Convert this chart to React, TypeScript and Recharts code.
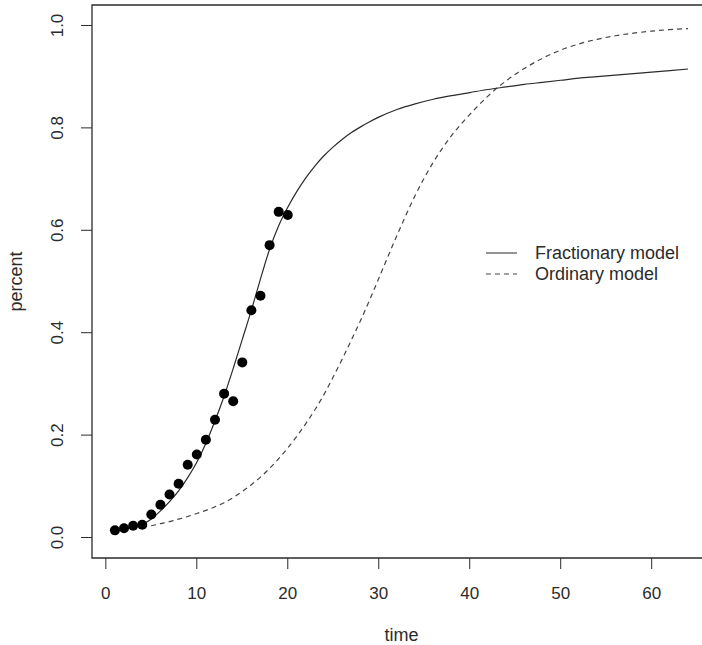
import { ComposedChart, Line, Scatter, XAxis, YAxis, ReferenceArea } from 'recharts'

// observed data
const obsTime = [1, 2, 3, 4, 5, 6, 7, 8, 9, 10, 11, 12, 13, 14, 15, 16, 17, 18, 19, 20]
const obsPercent = [
  0.014, 0.018, 0.023, 0.025, 0.045, 0.064, 0.084, 0.105, 0.142, 0.162,
  0.191, 0.23, 0.281, 0.266, 0.342, 0.444, 0.472, 0.571, 0.636, 0.63,
]

// model curves
const modelTime = [
  4, 5, 6, 7, 8, 9, 10, 11, 12, 13, 14, 15, 16, 17, 18, 19, 20, 21, 22, 23, 24, 25, 26, 27, 28, 29, 30,
  32, 34, 36, 38, 40, 42, 44, 46, 48, 50, 52, 54, 56, 58, 60, 62, 64,
]
const fractionary = [
  0.025, 0.036, 0.052, 0.07, 0.091, 0.117, 0.147, 0.184, 0.228, 0.276, 0.33, 0.387, 0.444, 0.505,
  0.563, 0.609, 0.645, 0.676, 0.703, 0.726, 0.746, 0.763, 0.778, 0.791, 0.802, 0.812, 0.821,
  0.836, 0.847, 0.856, 0.863, 0.869, 0.875, 0.88, 0.885, 0.889, 0.893, 0.897, 0.9, 0.903, 0.906,
  0.909, 0.912, 0.915,
]
const ordinary = [
  0.02, 0.023, 0.027, 0.031, 0.036, 0.041, 0.047, 0.053, 0.06, 0.068, 0.078, 0.09, 0.103, 0.118,
  0.135, 0.154, 0.175, 0.198, 0.223, 0.25, 0.28, 0.314, 0.349, 0.386, 0.424, 0.464, 0.506,
  0.59, 0.668, 0.733, 0.785, 0.826, 0.862, 0.892, 0.916, 0.936, 0.952, 0.964, 0.973, 0.98, 0.985,
  0.989, 0.992, 0.994,
]

const xTicks = [0, 10, 20, 30, 40, 50, 60]
const yTicks = [0, 0.2, 0.4, 0.6, 0.8, 1.0]
const xDomain: [number, number] = [-1.52, 66.52]
const yDomain: [number, number] = [-0.04, 1.04]

const points = obsTime.map((t, i) => ({ t, v: obsPercent[i] }))
const fracData = modelTime.map((t, i) => ({ t, v: fractionary[i] }))
const ordData = modelTime.map((t, i) => ({ t, v: ordinary[i] }))

const font = '"Liberation Sans", Arial, sans-serif'
const ink = '#2b2b2b'

function XTick({ x, y, payload }: any) {
  return (
    <text x={x} y={y} dy={28} textAnchor="middle" fontSize={17} fill={ink} fontFamily={font}>
      {payload.value}
    </text>
  )
}

function YTick({ x, y, payload }: any) {
  const bx = x - 16
  return (
    <text
      x={bx}
      y={y}
      transform={`rotate(-90 ${bx} ${y})`}
      textAnchor="middle"
      fontSize={17}
      fill={ink}
      fontFamily={font}
    >
      {Number(payload.value).toFixed(1)}
    </text>
  )
}

function YTitle({ viewBox }: any) {
  const cx = viewBox.x + 22
  const cy = viewBox.y + viewBox.height / 2
  return (
    <text x={cx} y={cy} transform={`rotate(-90 ${cx} ${cy})`} textAnchor="middle" fontSize={18} fill={ink} fontFamily={font}>
      percent
    </text>
  )
}

function ModelLegend() {
  return (
    <g fontFamily={font} fontSize={18} fill={ink}>
      <line x1={486} x2={517} y1={253} y2={253} stroke={ink} strokeWidth={1} />
      <line x1={486} x2={517} y1={274} y2={274} stroke="#444" strokeWidth={1} strokeDasharray="5 4" />
      <text x={535} y={259}>Fractionary model</text>
      <text x={535} y={280}>Ordinary model</text>
    </g>
  )
}

export default function App() {
  return (
    <div style={{ position: 'absolute', left: 0, top: 0, width: 702, height: 645, overflow: 'hidden', background: '#fff' }}>
      <ComposedChart width={730} height={645} margin={{ top: 5, right: 19, bottom: 0, left: 0 }}>
        <XAxis
          dataKey="t"
          type="number"
          domain={xDomain}
          ticks={xTicks}
          allowDataOverflow
          height={87}
          axisLine={false}
          tickSize={11}
          tickLine={{ stroke: ink }}
          tick={<XTick />}
          label={{ value: 'time', position: 'insideBottom', offset: 4, fontSize: 18, fill: ink, fontFamily: font }}
        />
        <YAxis
          type="number"
          domain={yDomain}
          ticks={yTicks}
          allowDataOverflow
          width={92}
          axisLine={false}
          tickSize={11}
          tickLine={{ stroke: ink }}
          tick={<YTick />}
          label={<YTitle />}
        />
        <ReferenceArea
          x1={xDomain[0]}
          x2={xDomain[1]}
          y1={yDomain[0]}
          y2={yDomain[1]}
          fill="none"
          stroke={ink}
          strokeWidth={1.3}
          ifOverflow="visible"
        />
        <Line
          data={ordData}
          dataKey="v"
          type="monotone"
          stroke="#444"
          strokeWidth={1.2}
          strokeDasharray="5 4"
          dot={false}
          isAnimationActive={false}
        />
        <Line
          data={fracData}
          dataKey="v"
          type="monotone"
          stroke={ink}
          strokeWidth={1.2}
          dot={false}
          isAnimationActive={false}
        />
        <Scatter data={points} dataKey="v" fill="#000" shape={(p: any) => <circle cx={p.cx} cy={p.cy} r={5} fill="#000" />} isAnimationActive={false} />
        <ModelLegend />
      </ComposedChart>
    </div>
  )
}
